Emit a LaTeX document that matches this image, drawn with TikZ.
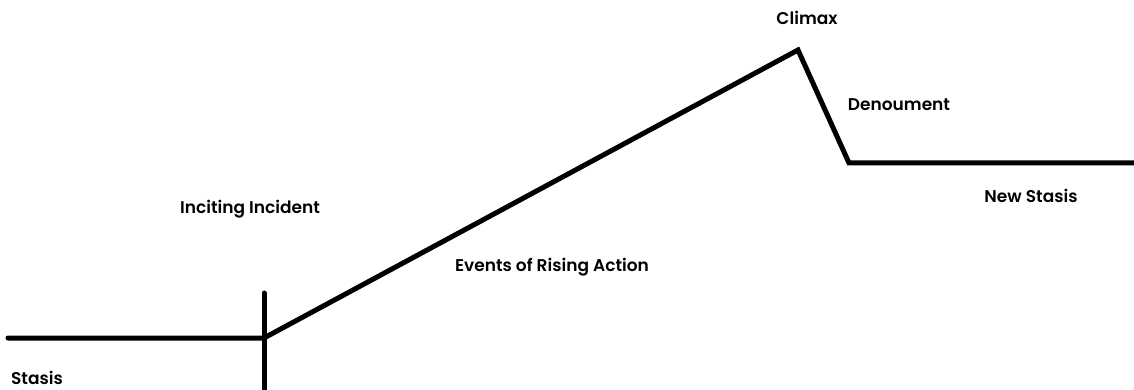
\documentclass[tikz,border=0pt]{standalone}
\usepackage{fontspec}
\setmainfont{Poppins}[BoldFont={* SemiBold}]
\usepackage{tikz}
\usetikzlibrary{positioning}

\begin{document}
\begin{tikzpicture}[
  x=1pt, y=-1pt,
  font=\fontsize{17}{19}\selectfont\bfseries,
  plot/.style={line width=5pt, line join=miter, line cap=round},
  lbl/.style={inner sep=0pt, anchor=center}
]
\useasboundingbox (0,0) rectangle (1134,390);
% the story arc
\coordinate (s0) at (8,338);
\coordinate (inc) at (264,338);
\coordinate (top) at (798,50);
\coordinate (fall) at (849,163);
\coordinate (s1) at (1134,163);
\coordinate (incA) at (264,293);
\coordinate (incB) at (264,392);
\draw[plot] (s0) -- (inc) -- (top) -- (fall) -- (s1);
\draw[plot] (incA) -- (incB);
% labels
\node[lbl] (stasis) at (37,378) {Stasis};
\node[lbl] (inciting) at (250,209) {Inciting Incident};
\node[lbl] (rising) at (552,267) {Events of Rising Action};
\node[lbl] (climax) at (807,18) {Climax};
\node[lbl] (denou) at (899,105) {Denoument};
\node[lbl] (newst) at (1031,196) {New Stasis};
\end{tikzpicture}
\end{document}
